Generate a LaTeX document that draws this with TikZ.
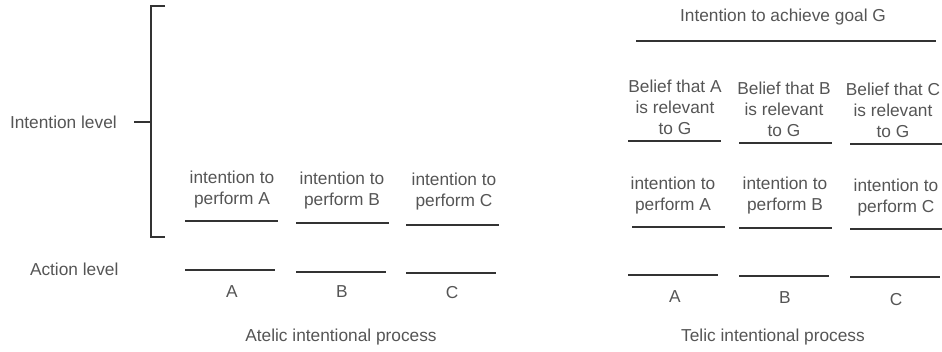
\documentclass[tikz,border=0pt]{standalone}
\usepackage{fontspec}
\setmainfont{Liberation Sans}
\begin{document}
\begin{tikzpicture}[x=1pt,y=-1pt,
  lbl/.style={text=txtgray,font=\fontsize{17.3}{21}\selectfont,inner sep=0pt,outer sep=0pt,align=center,anchor=base},
  rule/.style={draw=linegray,line width=2pt},
]
\definecolor{txtgray}{HTML}{555555}
\definecolor{linegray}{HTML}{333333}
\useasboundingbox (0,0) rectangle (942,352);

% ---------- atelic process ----------
\node[lbl,anchor=base west] (intlevel) at (10,129) {Intention level};
\node[lbl,anchor=base west] (actlevel) at (30,276) {Action level};

% bracket spanning the intention level
\draw[rule] (165,6) -- (151,6) -- (151,237) -- (165,237);
\draw[rule] (134,122) -- (151,122);

% multi-line labels are placed by the baseline of their last line
\node[lbl] (aintA) at (232,205) {intention to\\perform A};
\node[lbl] (aintB) at (342,206) {intention to\\perform B};
\node[lbl] (aintC) at (454,207) {intention to\\perform C};
\draw[rule] (185,221) -- (278,221);
\draw[rule] (296,223) -- (389,223);
\draw[rule] (406,225) -- (499,225);

\draw[rule] (185,270) -- (275,270);
\draw[rule] (296,272) -- (386,272);
\draw[rule] (406,273) -- (496,273);
\node[lbl] (aactA) at (232,298) {A};
\node[lbl] (aactB) at (342,298) {B};
\node[lbl] (aactC) at (452,299) {C};

\node[lbl] (atelic) at (341,342) {Atelic intentional process};

% ---------- telic process ----------
\node[lbl] (goal) at (783,22) {Intention to achieve goal G};
\draw[rule] (636,41) -- (936,41);

\node[lbl] (belA) at (675,135) {Belief that A\\is relevant\\to G};
\node[lbl] (belB) at (784,137) {Belief that B\\is relevant\\to G};
\node[lbl] (belC) at (893,138) {Belief that C\\is relevant\\to G};
\draw[rule] (628,141) -- (721,141);
\draw[rule] (739,143) -- (832,143);
\draw[rule] (850,144) -- (942,144);

\node[lbl] (tintA) at (673,211) {intention to\\perform A};
\node[lbl] (tintB) at (785,211) {intention to\\perform B};
\node[lbl] (tintC) at (896,213) {intention to\\perform C};
\draw[rule] (632,227) -- (725,227);
\draw[rule] (739,228) -- (832,228);
\draw[rule] (850,229) -- (942,229);

\draw[rule] (628,275) -- (718,275);
\draw[rule] (739,276) -- (829,276);
\draw[rule] (850,277) -- (940,277);
\node[lbl] (tactA) at (675,303) {A};
\node[lbl] (tactB) at (785,304) {B};
\node[lbl] (tactC) at (896,306) {C};

\node[lbl] (telic) at (773,342) {Telic intentional process};
\end{tikzpicture}
\end{document}
